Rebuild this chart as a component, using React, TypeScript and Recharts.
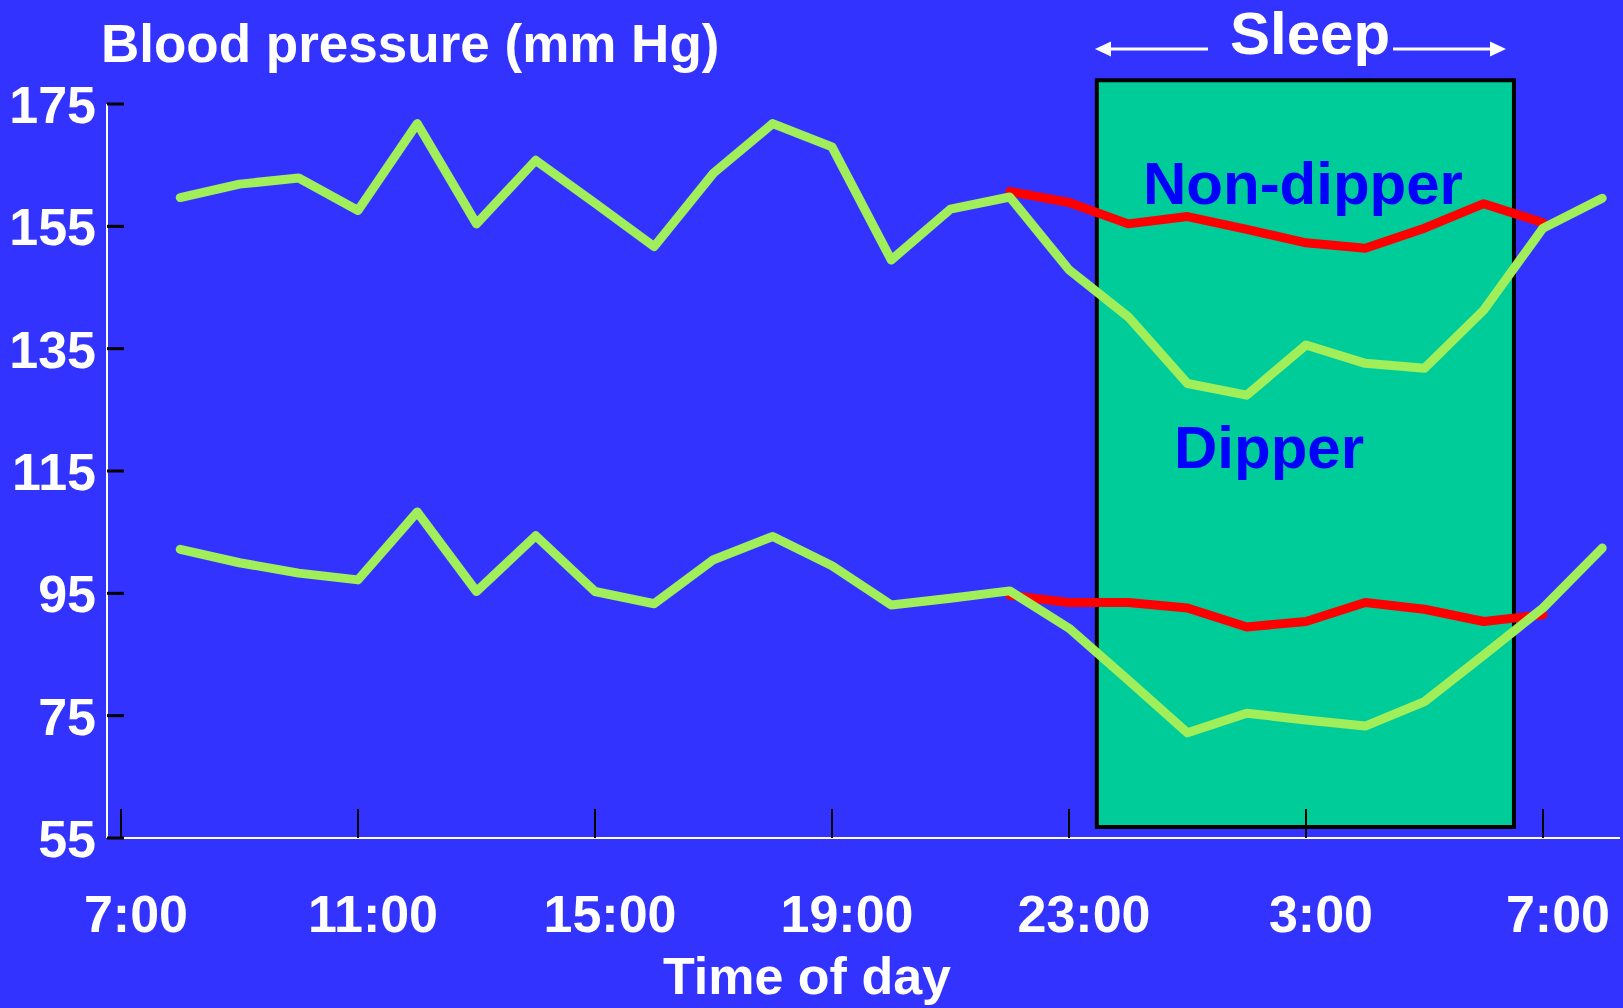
import { LineChart, Line, XAxis, YAxis, ReferenceArea } from 'recharts';

// hours after 7:00 (8:00 day one ... 8:00 next morning)
const hourIndex = [1, 2, 3, 4, 5, 6, 7, 8, 9, 10, 11, 12, 13, 14, 15, 16, 17, 18, 19, 20, 21, 22, 23, 24, 25];

const systolicDipper = [159.7, 161.9, 162.9, 157.6, 171.8, 155.4, 165.8, 158.8, 151.7, 163.7, 171.8, 168.0, 149.5, 157.8, 159.8, 147.9, 140.2, 129.3, 127.4, 135.6, 132.6, 131.8, 141.3, 154.7, 159.6];
const systolicNonDipper = [null, null, null, null, null, null, null, null, null, null, null, null, null, null, 160.7, 158.9, 155.4, 156.6, 154.5, 152.3, 151.4, 154.7, 158.7, 155.6, null];
const diastolicDipper = [102.2, 100.0, 98.3, 97.2, 108.3, 95.3, 104.4, 95.3, 93.3, 100.5, 104.3, 99.5, 93.1, 94.2, 95.4, 89.3, 80.8, 72.2, 75.4, 74.3, 73.3, 77.3, 84.9, 92.6, 102.4];
const diastolicNonDipper = [null, null, null, null, null, null, null, null, null, null, null, null, null, null, 94.7, 93.5, 93.5, 92.6, 89.5, 90.4, 93.5, 92.4, 90.4, 91.5, null];

const tickHours = [0, 4, 8, 12, 16, 20, 24];
const timeLabels = ['7:00', '11:00', '15:00', '19:00', '23:00', '3:00', '7:00'];
const bpTicks = [55, 75, 95, 115, 135, 155, 175];

// sleep period, in hours after 7:00
const sleepStart = 16.47;
const sleepEnd = 23.51;

const data = hourIndex.map((t, i) => ({
  t,
  sysDip: systolicDipper[i],
  sysNon: systolicNonDipper[i],
  diaDip: diastolicDipper[i],
  diaNon: diastolicNonDipper[i],
}));

const FONT = '"Liberation Sans", Arial, Helvetica, sans-serif';
const AXIS_X = 107;
const AXIS_Y = 838;
const GREEN = '#A0EF5A';
const RED = '#FF0000';
const LINE_W = 9;

const XTick = (props: any) => {
  const { x, index } = props;
  return (
    <g>
      <line x1={x} x2={x} y1={AXIS_Y - 29} y2={AXIS_Y} stroke="#000" strokeWidth={2} />
      <text x={x + 15} y={AXIS_Y + 94} textAnchor="middle" fill="#fff" fontFamily={FONT} fontWeight="bold" fontSize={52}>
        {timeLabels[index]}
      </text>
    </g>
  );
};

const YTick = (props: any) => {
  const { y, payload } = props;
  return (
    <g>
      <line x1={AXIS_X} x2={AXIS_X + 17} y1={y} y2={y} stroke="#000" strokeWidth={3} />
      <text x={96} y={y + 19} textAnchor="end" fill="#fff" fontFamily={FONT} fontWeight="bold" fontSize={52}>
        {payload.value}
      </text>
    </g>
  );
};

export default function App() {
  return (
    <div style={{ position: 'absolute', left: 0, top: 0, width: 1623, height: 1008, background: '#3333FF' }}>
      <style>{`.bp-line .recharts-line-curve, .bp-line path { stroke-width: ${LINE_W}px; stroke-linejoin: round; stroke-linecap: round; }`}</style>
      <LineChart width={1623} height={1008} data={data} margin={{ top: 104, right: 3, bottom: 0, left: 0 }}>
        <ReferenceArea
          x1={sleepStart}
          x2={sleepEnd}
          y1={56.8}
          y2={178.9}
          ifOverflow="visible"
          fill="#00CC99"
          fillOpacity={1}
          stroke="#000"
          strokeWidth={4}
        />
        <XAxis
          dataKey="t"
          type="number"
          domain={[-0.236, 25.3]}
          ticks={tickHours}
          interval={0}
          height={170}
          axisLine={{ stroke: '#fff', strokeWidth: 2 }}
          tickLine={false}
          tick={<XTick />}
        />
        <YAxis
          type="number"
          domain={[55, 175]}
          ticks={bpTicks}
          interval={0}
          width={107}
          axisLine={{ stroke: '#fff', strokeWidth: 2 }}
          tickLine={false}
          tick={<YTick />}
        />
        <Line className="bp-line" type="linear" dataKey="sysNon" stroke={RED} strokeWidth={LINE_W} dot={false} isAnimationActive={false} />
        <Line className="bp-line" type="linear" dataKey="diaNon" stroke={RED} strokeWidth={LINE_W} dot={false} isAnimationActive={false} />
        <Line className="bp-line" type="linear" dataKey="sysDip" stroke={GREEN} strokeWidth={LINE_W} dot={false} isAnimationActive={false} />
        <Line className="bp-line" type="linear" dataKey="diaDip" stroke={GREEN} strokeWidth={LINE_W} dot={false} isAnimationActive={false} />
      </LineChart>
      <svg width={1623} height={1008} style={{ position: 'absolute', left: 0, top: 0, pointerEvents: 'none' }}>
        <g fontFamily={FONT} fontWeight="bold">
          <text x={101} y={62} fill="#fff" fontSize={53}>Blood pressure (mm Hg)</text>
          <text x={1230} y={54} fill="#fff" fontSize={60}>Sleep</text>
          <text x={1143} y={204} fill="#0000FF" fontSize={60}>Non-dipper</text>
          <text x={1174} y={468} fill="#0000FF" fontSize={60}>Dipper</text>
          <text x={807} y={994} fill="#fff" fontSize={52} textAnchor="middle">Time of day</text>
        </g>
        <line x1={1108} x2={1208} y1={49} y2={49} stroke="#fff" strokeWidth={3} />
        <polygon points="1095,49 1111,41.5 1111,56.5" fill="#fff" />
        <line x1={1393} x2={1492} y1={49} y2={49} stroke="#fff" strokeWidth={3} />
        <polygon points="1506,49 1490,41.5 1490,56.5" fill="#fff" />
      </svg>
    </div>
  );
}
